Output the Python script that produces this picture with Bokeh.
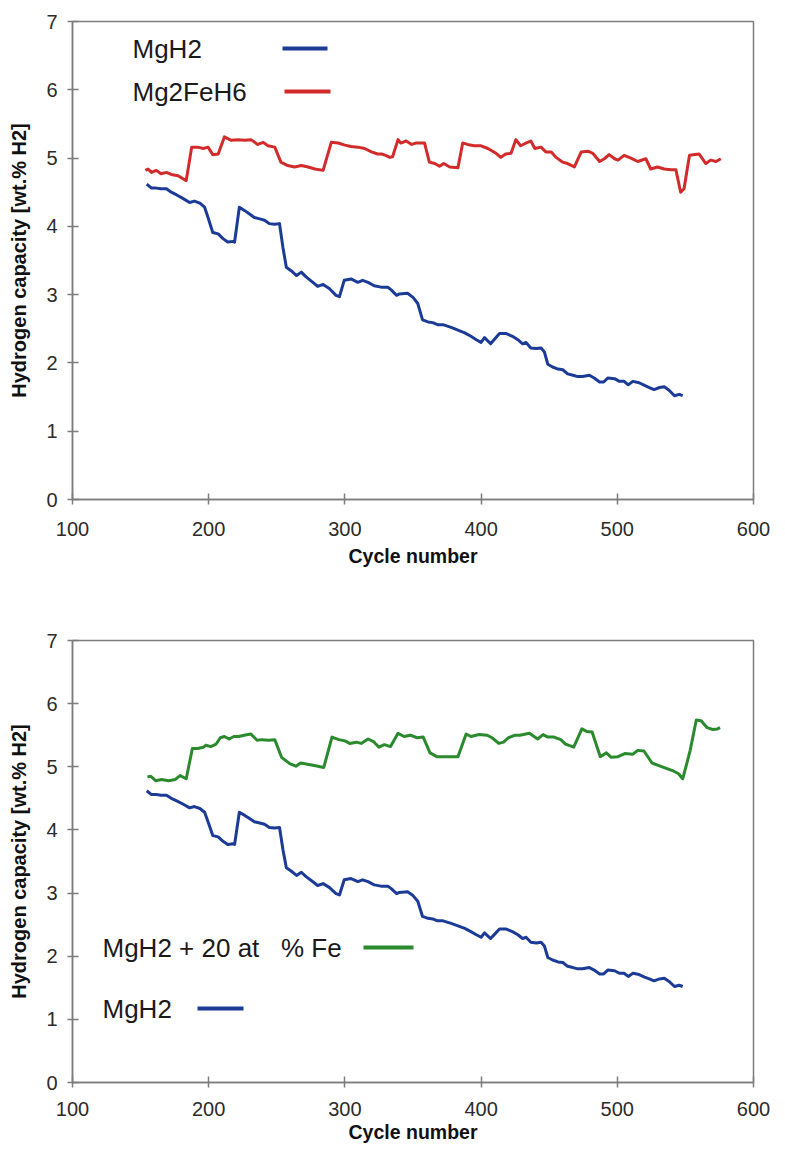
from bokeh.plotting import figure
from bokeh.layouts import column
from bokeh.models import Label, BoxAnnotation, FixedTicker, Range1d
from bokeh.embed import file_html
from bokeh.resources import INLINE

# ---------------- data ----------------
cycle_mgh2 = [154.5, 158, 161.5, 165, 169, 172.5, 176.5, 181, 186, 189.5,
              193.5, 197, 199.5, 203, 207, 210.5, 214, 218, 219, 222.5,
              226.5, 230, 233.5, 237.5, 241, 244.5, 248.5, 252, 254.5, 257,
              260.5, 264.5, 268, 271.5, 276.5, 280, 284, 288.5, 293.5, 296,
              299.5, 304.5, 309.5, 313, 317, 321.5, 326.5, 331.5, 334, 338,
              340, 346, 350, 353.5, 357, 361, 364.5, 368, 372, 378,
              383, 388, 392.5, 396.5, 400, 402.5, 407, 410, 413.5, 418.5,
              423, 427, 430.5, 433, 436.5, 440.5, 444, 446.5, 449, 452.5,
              456.5, 460, 463.5, 467.5, 471, 474.5, 479.5, 483, 487, 490,
              493, 498, 501.5, 505, 508, 511.5, 516, 520, 523.5, 527,
              531, 534.5, 538, 542, 545.5, 548]
cap_mgh2 = [4.62, 4.56, 4.56, 4.55, 4.55, 4.50, 4.46, 4.41, 4.35, 4.37,
            4.34, 4.28, 4.13, 3.91, 3.89, 3.82, 3.77, 3.78, 3.77, 4.28,
            4.23, 4.18, 4.13, 4.11, 4.09, 4.04, 4.03, 4.04, 3.69, 3.40,
            3.35, 3.28, 3.33, 3.26, 3.18, 3.12, 3.15, 3.09, 2.99, 2.97,
            3.21, 3.23, 3.18, 3.21, 3.18, 3.13, 3.11, 3.11, 3.07, 2.99,
            3.01, 3.02, 2.96, 2.87, 2.63, 2.60, 2.59, 2.56, 2.56, 2.52,
            2.48, 2.44, 2.39, 2.34, 2.30, 2.37, 2.28, 2.35, 2.43, 2.43,
            2.39, 2.34, 2.28, 2.30, 2.22, 2.21, 2.22, 2.16, 1.98, 1.94,
            1.91, 1.90, 1.84, 1.82, 1.80, 1.80, 1.82, 1.78, 1.72, 1.72,
            1.78, 1.77, 1.73, 1.73, 1.68, 1.73, 1.71, 1.67, 1.64, 1.61,
            1.64, 1.65, 1.60, 1.52, 1.54, 1.52]

cycle_mg2feh6 = [153.5, 155.5, 158, 161.5, 165, 169, 172.5, 177.5, 183.5, 187.5,
                 192, 196, 199.5, 203, 207, 211.5, 216.5, 221.5, 226.5, 231,
                 236, 240, 243.5, 248.5, 253, 258, 263, 268, 273, 278,
                 284, 290, 295, 300, 304.5, 309.5, 314.5, 319.5, 324, 327,
                 330, 333, 335, 339, 341, 345, 349, 352, 358.5, 362,
                 366, 369.5, 372.5, 377, 383, 386.5, 390, 395, 400, 405,
                 411, 414.5, 418, 422, 425.5, 429, 432, 436.5, 439.5, 444,
                 447.5, 451.5, 455, 460, 463.5, 468.5, 473.5, 478.5, 482, 487,
                 490.5, 494, 498, 500.5, 505, 510, 515, 521, 524.5, 529.5,
                 534.5, 539.5, 543, 546.5, 549, 553, 560, 565, 568.5, 572.5,
                 576]
cap_mg2feh6 = [4.82, 4.84, 4.79, 4.82, 4.77, 4.79, 4.76, 4.74, 4.67, 5.16,
               5.16, 5.14, 5.16, 5.05, 5.06, 5.31, 5.26, 5.27, 5.26, 5.27,
               5.20, 5.23, 5.18, 5.16, 4.94, 4.89, 4.87, 4.89, 4.87, 4.84,
               4.82, 5.23, 5.22, 5.19, 5.17, 5.16, 5.14, 5.09, 5.06, 5.06,
               5.04, 5.01, 5.02, 5.27, 5.22, 5.25, 5.20, 5.22, 5.22, 4.94,
               4.92, 4.88, 4.92, 4.87, 4.86, 5.22, 5.20, 5.18, 5.18, 5.14,
               5.07, 5.01, 5.06, 5.07, 5.27, 5.18, 5.21, 5.25, 5.14, 5.16,
               5.09, 5.09, 5.01, 4.94, 4.92, 4.87, 5.09, 5.10, 5.07, 4.95,
               4.99, 5.05, 4.99, 4.97, 5.04, 5.00, 4.95, 4.99, 4.84, 4.87,
               4.84, 4.83, 4.83, 4.50, 4.55, 5.04, 5.06, 4.92, 4.97, 4.95,
               4.99]

cycle_mgh2_fe = [155, 157.5, 161, 165.5, 170.5, 175.5, 179, 183.5, 188, 192,
                 196, 198, 201.5, 205.5, 208.5, 211.5, 215, 218.5, 222, 226,
                 231, 235.5, 239, 244, 248.5, 253.5, 259.5, 264, 267.5, 272.5,
                 277.5, 284.5, 290.5, 295.5, 300, 303.5, 308.5, 312, 317, 321,
                 325, 329, 333.5, 339, 343.5, 348, 353, 357.5, 362.5, 367.5,
                 374.5, 383, 389, 392.5, 398.5, 404.5, 408, 413, 416.5, 420,
                 425, 428.5, 435.5, 441.5, 445.5, 449, 453.5, 458.5, 462, 468,
                 474, 477.5, 481.5, 487.5, 492, 495.5, 500.5, 505.5, 511.5, 515,
                 519.5, 525.5, 531.5, 536.5, 541.5, 545, 548, 551, 553.5, 558,
                 561.5, 566, 570, 573.5, 575.5]
cap_mgh2_fe = [4.84, 4.85, 4.78, 4.80, 4.78, 4.80, 4.86, 4.81, 5.29, 5.29,
               5.31, 5.34, 5.32, 5.36, 5.46, 5.48, 5.44, 5.48, 5.48, 5.50,
               5.52, 5.42, 5.43, 5.42, 5.43, 5.15, 5.05, 5.01, 5.06, 5.04,
               5.02, 4.99, 5.47, 5.43, 5.41, 5.37, 5.39, 5.37, 5.44, 5.40,
               5.31, 5.35, 5.32, 5.53, 5.48, 5.50, 5.46, 5.47, 5.22, 5.16,
               5.16, 5.16, 5.52, 5.48, 5.51, 5.50, 5.46, 5.37, 5.39, 5.46,
               5.50, 5.50, 5.53, 5.44, 5.51, 5.47, 5.47, 5.43, 5.36, 5.31,
               5.60, 5.56, 5.55, 5.16, 5.22, 5.15, 5.16, 5.21, 5.20, 5.26,
               5.25, 5.06, 5.01, 4.97, 4.93, 4.89, 4.81, 5.05, 5.26, 5.74,
               5.73, 5.62, 5.59, 5.60, 5.62]

x_ticks = [100, 200, 300, 400, 500, 600]
y_ticks = [0, 1, 2, 3, 4, 5, 6, 7]
x_label = "Cycle number"
y_label = "Hydrogen capacity [wt.% H2]"
legend_top = ["MgH2", "Mg2FeH6"]
legend_bottom = ["MgH2 + 20 at \u00a0 % Fe", "MgH2"]

assert len(cycle_mgh2) == len(cap_mgh2)
assert len(cycle_mg2feh6) == len(cap_mg2feh6)
assert len(cycle_mgh2_fe) == len(cap_mgh2_fe)

# ---------------- styles ----------------
BLUE = "#1b3b97"
RED = "#d12b2b"
GREEN = "#2b8a2e"
AXIS = "#7d7d7d"
FONT = "Liberation Sans"


def make_fig(width, height, left, right, top, bottom, tick_standoff, label_standoff):
    p = figure(width=width, height=height,
               x_range=Range1d(100, 600), y_range=Range1d(0, 7),
               output_backend="svg", toolbar_location=None,
               min_border_left=left, min_border_right=right,
               min_border_top=top, min_border_bottom=bottom)
    p.grid.visible = False
    p.outline_line_color = AXIS
    p.outline_line_width = 1.5
    p.background_fill_color = "white"
    p.border_fill_color = "white"
    p.xaxis.ticker = FixedTicker(ticks=x_ticks)
    p.yaxis.ticker = FixedTicker(ticks=y_ticks)
    for ax in (p.xaxis, p.yaxis):
        ax.axis_line_color = AXIS
        ax.axis_line_width = 1.5
        ax.major_tick_line_color = AXIS
        ax.major_tick_line_width = 1.5
        ax.major_tick_in = 6
        ax.major_tick_out = 5
        ax.minor_tick_line_color = None
        ax.major_label_text_font = FONT
        ax.major_label_text_font_size = "20px"
        ax.major_label_text_color = "#2b2b2b"
        ax.axis_label_text_font = FONT
        ax.axis_label_text_font_style = "bold"
        ax.axis_label_text_color = "#111111"
    p.xaxis.axis_label = x_label
    p.yaxis.axis_label = y_label
    p.xaxis.axis_label_text_font_size = "19.5px"
    p.yaxis.axis_label_text_font_size = "20px"
    p.xaxis.major_label_standoff = tick_standoff
    p.xaxis.axis_label_standoff = label_standoff
    p.yaxis.major_label_standoff = 10
    p.yaxis.axis_label_standoff = 13
    return p


def legend_entry(p, text, tx, ty, lx0, lx1, color):
    p.add_layout(Label(x=tx, y=ty, x_units="screen", y_units="screen", text=text,
                       text_font=FONT, text_font_size="26px", text_color="#1a1a1a",
                       text_baseline="middle", text_align="left"))
    p.add_layout(BoxAnnotation(left=lx0, right=lx1, bottom=ty - 2, top=ty + 2,
                               left_units="screen", right_units="screen",
                               bottom_units="screen", top_units="screen",
                               fill_color=color, fill_alpha=1.0, line_alpha=0))


# ---------------- top chart ----------------
p1 = make_fig(785, 600, 71, 32, 21, 101, 17, 6)
p1.line(cycle_mg2feh6, cap_mg2feh6, line_color=RED, line_width=3, line_join="round")
p1.line(cycle_mgh2, cap_mgh2, line_color=BLUE, line_width=3, line_join="round")
legend_entry(p1, legend_top[0], 60, 451, 210, 255, BLUE)
legend_entry(p1, legend_top[1], 60, 408, 212, 258, RED)

# ---------------- bottom chart ----------------
p2 = make_fig(785, 549, 72, 18, 40, 67, 14, 2)
p2.line(cycle_mgh2_fe, cap_mgh2_fe, line_color=GREEN, line_width=3, line_join="round")
p2.line(cycle_mgh2, cap_mgh2, line_color=BLUE, line_width=3, line_join="round")
legend_entry(p2, legend_bottom[0], 30, 135, 291, 341, GREEN)
legend_entry(p2, legend_bottom[1], 30, 74, 125, 171, BLUE)

layout = column(p1, p2, spacing=0)
open("out.html", "w").write(file_html(layout, INLINE))
